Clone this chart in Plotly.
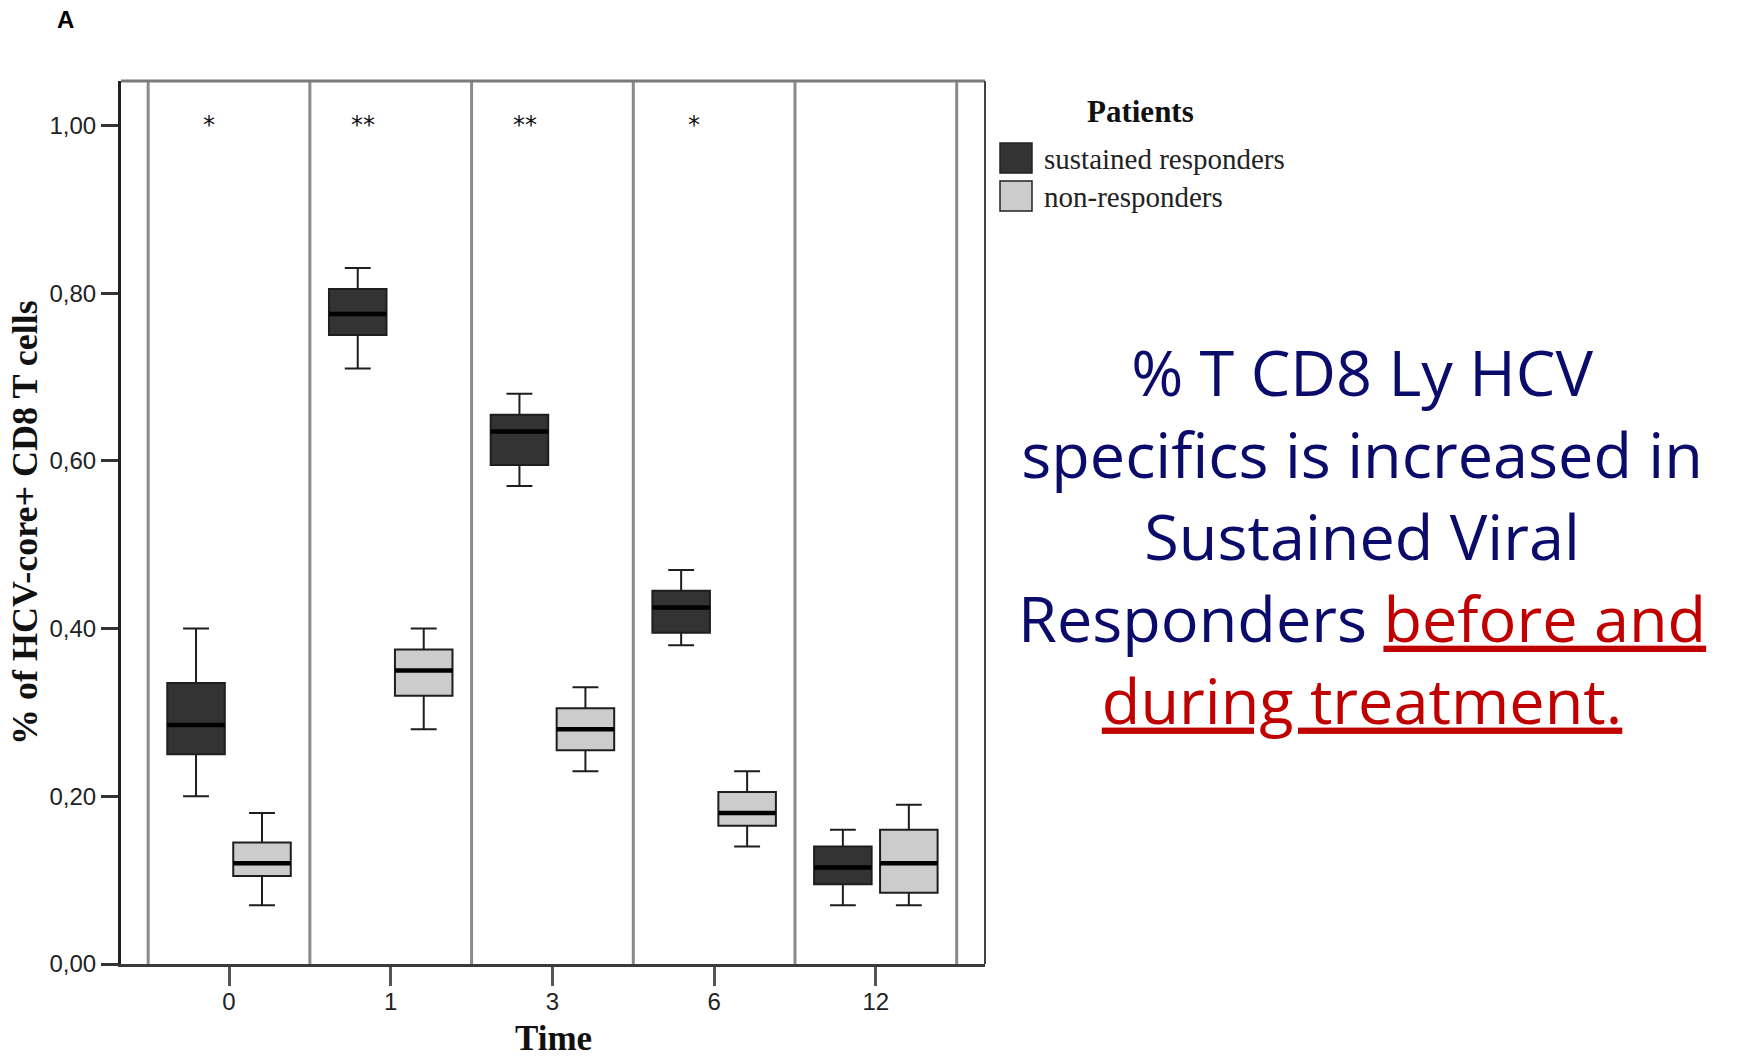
import plotly.graph_objects as go

# Time points (months) and significance markers
times = ["0", "1", "3", "6", "12"]
significance = ["*", "**", "**", "*", ""]

# Sustained responders: five-number summaries per time point
sr_upper = [0.40, 0.83, 0.68, 0.47, 0.16]
sr_q3 = [0.335, 0.805, 0.655, 0.445, 0.14]
sr_median = [0.285, 0.775, 0.635, 0.425, 0.115]
sr_q1 = [0.25, 0.75, 0.595, 0.395, 0.095]
sr_lower = [0.20, 0.71, 0.57, 0.38, 0.07]

# Non-responders: five-number summaries per time point
nr_upper = [0.18, 0.40, 0.33, 0.23, 0.19]
nr_q3 = [0.145, 0.375, 0.305, 0.205, 0.16]
nr_median = [0.12, 0.35, 0.28, 0.18, 0.12]
nr_q1 = [0.105, 0.32, 0.255, 0.165, 0.085]
nr_lower = [0.07, 0.28, 0.23, 0.14, 0.07]

y_ticks = [0.0, 0.2, 0.4, 0.6, 0.8, 1.0]

group_names = ["sustained responders", "non-responders"]
group_fills = ["#333333", "#cccccc"]

message_lines = [
    "% T CD8 Ly HCV",
    "specifics is increased in",
    "Sustained Viral",
    "Responders <span style='color:#c00000'><u>before and</u></span>",
    "<span style='color:#c00000'><u>during treatment.</u></span>",
]

# Page and plot-area geometry (pixels)
W, H = 1752, 1061
L, R, T, B = 121, 985, 81, 964


def px(x):
    return (x - L) / (R - L)


def py(y):
    return (B - y) / (B - T)


fig = go.Figure()

summaries = [
    (sr_q1, sr_median, sr_q3, sr_lower, sr_upper),
    (nr_q1, nr_median, nr_q3, nr_lower, nr_upper),
]

for k, (q1, med, q3, lo, hi) in enumerate(summaries):
    fig.add_trace(go.Box(
        name=group_names[k], x=times,
        q1=q1, median=med, q3=q3, lowerfence=lo, upperfence=hi,
        offsetgroup=str(k), fillcolor=group_fills[k],
        line=dict(color="#1e1e1e", width=2), whiskerwidth=0.45,
        showlegend=False, hoverinfo="skip",
    ))

# Thicker median bars drawn over each box
for k, (q1, med, q3, lo, hi) in enumerate(summaries):
    fig.add_trace(go.Box(
        x=times, q1=med, median=med, q3=med, lowerfence=med, upperfence=med,
        offsetgroup=str(k), fillcolor="rgba(0,0,0,0)",
        line=dict(color="#000000", width=4.5), whiskerwidth=0,
        showlegend=False, hoverinfo="skip",
    ))

shapes = []
# Vertical separators between time panels
for i in range(len(times) + 1):
    shapes.append(dict(type="line", xref="x", yref="paper", x0=i - 0.5, x1=i - 0.5,
                       y0=0, y1=1, line=dict(color="#8a8a8a", width=3), layer="below"))
# Top and right frame edges
shapes.append(dict(type="line", xref="paper", yref="paper", x0=0, x1=1, y0=1, y1=1,
                   line=dict(color="#7a7a7a", width=3)))
shapes.append(dict(type="line", xref="paper", yref="paper", x0=1, x1=1, y0=0, y1=1,
                   line=dict(color="#444444", width=2)))
# Legend swatches
swatch_tops = [143, 181]
for k in range(2):
    shapes.append(dict(type="rect", xref="paper", yref="paper",
                       x0=px(1000), x1=px(1032), y0=py(swatch_tops[k] + 30), y1=py(swatch_tops[k]),
                       fillcolor=group_fills[k], line=dict(color="#222222", width=1.5)))

annotations = []
# Significance stars above each time point
for i, s in enumerate(significance):
    if s:
        annotations.append(dict(xref="x", yref="y", x=i - 0.08 - 0.045 * len(s), y=1.0,
                                text=s, showarrow=False, xanchor="center", yanchor="middle",
                                font=dict(family="DejaVu Sans", size=24, color="#111111")))

annotations += [
    dict(xref="paper", yref="paper", x=px(65), y=py(19), text="<b>A</b>", showarrow=False,
         xanchor="center", yanchor="middle",
         font=dict(family="Liberation Sans", size=24, color="#000000")),
    dict(xref="paper", yref="paper", x=px(25), y=py(523), text="<b>% of HCV-core+ CD8 T cells</b>",
         textangle=-90, showarrow=False, xanchor="center", yanchor="middle",
         font=dict(family="Liberation Serif", size=36, color="#111111")),
    dict(xref="paper", yref="paper", x=px(553), y=py(1038), text="<b>Time</b>", showarrow=False,
         xanchor="center", yanchor="middle",
         font=dict(family="Liberation Serif", size=35, color="#111111")),
    dict(xref="paper", yref="paper", x=px(1140), y=py(111), text="<b>Patients</b>", showarrow=False,
         xanchor="center", yanchor="middle",
         font=dict(family="Liberation Serif", size=31, color="#111111")),
]
label_centers = [159, 197]
for k in range(2):
    annotations.append(dict(xref="paper", yref="paper", x=px(1042), y=py(label_centers[k]),
                            text=group_names[k], showarrow=False, xanchor="left", yanchor="middle",
                            font=dict(family="Liberation Serif", size=29, color="#222222")))

# Message block at the right, one annotation with line breaks
annotations.append(dict(xref="paper", yref="paper", x=px(1362), y=py(535),
                        text="<br>".join(message_lines), align="center",
                        showarrow=False, xanchor="center", yanchor="middle",
                        font=dict(family="Comic Sans MS, Open Sans", size=63, color="#0b0b6b")))

fig.update_layout(
    width=W, height=H, template="none",
    margin=dict(l=L, r=W - R, t=T, b=H - B, pad=0),
    paper_bgcolor="white", plot_bgcolor="white",
    separators=",.",
    boxmode="group", boxgap=0.184, boxgroupgap=0.128,
    font=dict(family="Liberation Sans", size=24, color="#222222"),
    shapes=shapes, annotations=annotations, showlegend=False,
    xaxis=dict(type="category", categoryorder="array", categoryarray=times,
               range=[-0.668, 4.675], showgrid=False, zeroline=False,
               showline=True, linecolor="#3a3a3a", linewidth=3,
               ticks="outside", ticklen=19, tickwidth=3, tickcolor="#555555",
               ticklabelstandoff=-5,
               tickfont=dict(family="Liberation Sans", size=24, color="#222222")),
    yaxis=dict(range=[0, 1.053], tickvals=y_ticks, tickformat=".2f", showgrid=False,
               zeroline=False, showline=True, linecolor="#222222", linewidth=3,
               ticks="outside", ticklen=17, tickwidth=3, tickcolor="#333333",
               tickfont=dict(family="Liberation Sans", size=24, color="#222222")),
)

fig.write_html("out.html")
